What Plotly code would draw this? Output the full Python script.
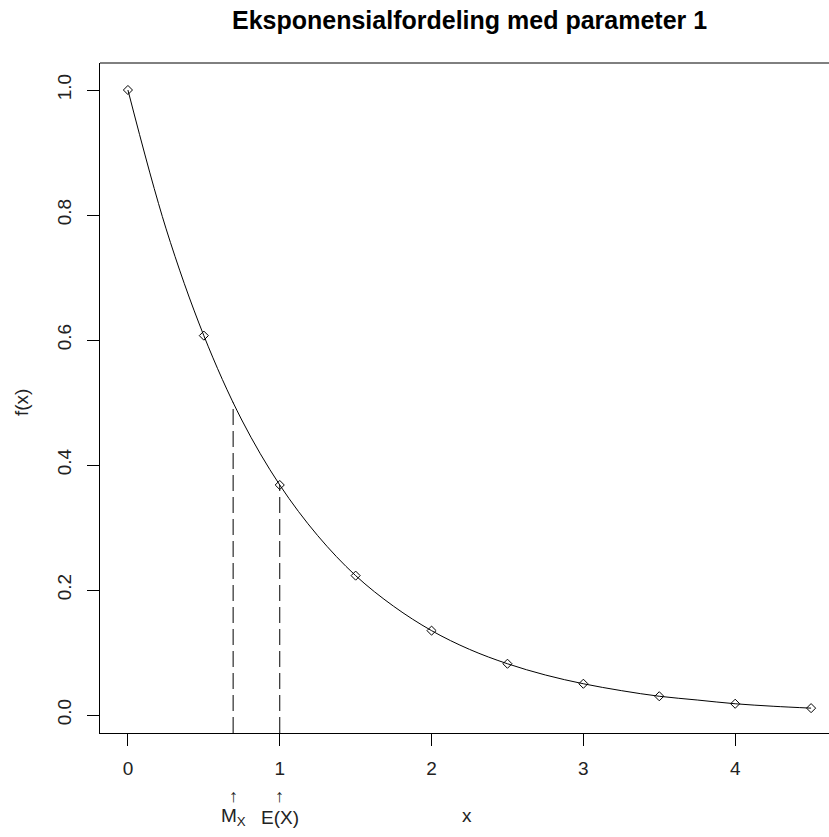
import plotly.graph_objects as go

# data
pt_x = [0, 0.5, 1, 1.5, 2, 2.5, 3, 3.5, 4, 4.5]
pt_y = [1.0, 0.607, 0.368, 0.223, 0.135, 0.082, 0.050, 0.030, 0.018, 0.011]

curve_x = [0, 0.25, 0.5, 0.75, 1, 1.25, 1.5, 1.75, 2, 2.25, 2.5, 2.75, 3, 3.25, 3.5, 3.75, 4, 4.25, 4.5]
curve_y = [1.0, 0.779, 0.607, 0.472, 0.368, 0.287, 0.223, 0.174, 0.135, 0.105, 0.082, 0.064,
           0.050, 0.039, 0.030, 0.024, 0.018, 0.014, 0.011]

mode_x, mode_f = 0.693, 0.50
mean_x, mean_f = 1.0, 0.368

x_ticks = [0, 1, 2, 3, 4]
x_tick_text = ["0", "1", "2", "3", "4"]
y_ticks = [0.0, 0.2, 0.4, 0.6, 0.8, 1.0]
y_tick_text = ["0.0", "0.2", "0.4", "0.6", "0.8", "1.0"]

title = "Eksponensialfordeling med parameter 1"
FONT = "Liberation Sans, Arial, Helvetica, sans-serif"
TXT = "#222"
FS = 19

W, H = 829, 837
L, R, T, B = 100, 0, 63, 104
xr = [-0.184, 4.618]
yr = [-0.0288, 1.0432]

fig = go.Figure()
fig.add_trace(go.Scatter(x=curve_x, y=curve_y, mode="lines", line=dict(color="black", width=1, shape="spline"),
                         hoverinfo="skip"))
fig.add_trace(go.Scatter(x=pt_x, y=pt_y, mode="markers",
                         marker=dict(symbol="diamond-open", size=7, color="black", line=dict(width=1, color="black"))))
for vx, vy in [(mode_x, mode_f), (mean_x, mean_f)]:
    fig.add_trace(go.Scatter(x=[vx, vx], y=[yr[0], vy], mode="lines",
                             line=dict(color="black", width=1, dash="16px,6px"), hoverinfo="skip"))

# top border
fig.add_shape(type="line", xref="paper", yref="paper", x0=0, x1=1, y0=1, y1=1,
              line=dict(color="black", width=1))

axis_common = dict(showline=True, linecolor="black", linewidth=1, ticks="outside", ticklen=12,
                   tickcolor="black", tickwidth=1, showgrid=False, zeroline=False,
                   tickfont=dict(family=FONT, size=FS, color=TXT))
fig.update_xaxes(range=xr, tickvals=x_ticks, ticktext=x_tick_text, ticklabelstandoff=6, **axis_common)
fig.update_yaxes(range=yr, tickvals=y_ticks, ticktext=y_tick_text, tickangle=-90, ticklabelstandoff=8,
                 **axis_common)

def px_to_paper_x(px):
    return (px - L) / (W - L - R)

def py_to_paper_y(py):
    return (H - B - py) / (H - T - B)

ann = []
ann.append(dict(text="<b>" + title + "</b>", x=px_to_paper_x(469), y=py_to_paper_y(20), xref="paper", yref="paper",
                showarrow=False, font=dict(family=FONT, size=25, color="black"), xanchor="center", yanchor="middle"))
ann.append(dict(text="x", x=px_to_paper_x(467), y=py_to_paper_y(816), xref="paper", yref="paper",
                showarrow=False, font=dict(family=FONT, size=FS, color=TXT), yanchor="middle"))
ann.append(dict(text="f(x)", x=px_to_paper_x(21), y=py_to_paper_y(403), xref="paper", yref="paper",
                showarrow=False, textangle=-90, font=dict(family=FONT, size=FS, color=TXT),
                xanchor="center", yanchor="middle"))
for vx, lbl in [(mode_x, "M<sub>X</sub>"), (mean_x, "E(X)")]:
    ann.append(dict(text="↑", x=vx, y=py_to_paper_y(796), xref="x", yref="paper", showarrow=False,
                    font=dict(family=FONT, size=18, color=TXT), yanchor="middle"))
    ann.append(dict(text=lbl, x=vx, y=py_to_paper_y(817), xref="x", yref="paper", showarrow=False,
                    font=dict(family=FONT, size=FS, color=TXT), yanchor="middle"))

fig.update_layout(width=W, height=H, margin=dict(l=L, r=R, t=T, b=B), plot_bgcolor="white",
                  paper_bgcolor="white", showlegend=False, annotations=ann)
fig.write_html("out.html")
